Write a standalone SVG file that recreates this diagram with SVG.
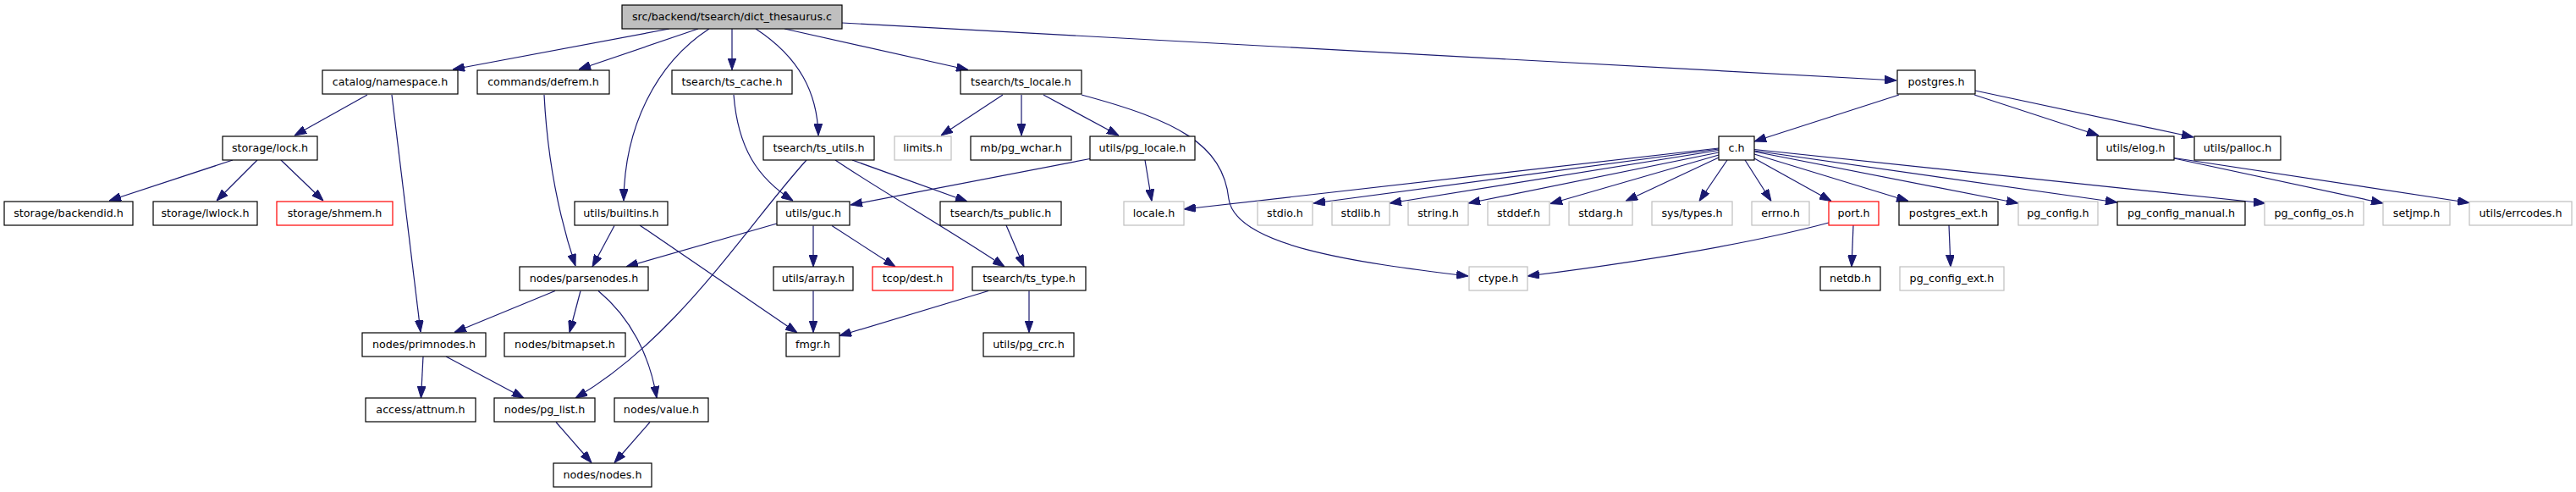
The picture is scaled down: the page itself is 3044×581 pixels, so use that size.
<svg xmlns="http://www.w3.org/2000/svg" width="3044" height="581" viewBox="0 0 3044 581">
<style>
rect{fill:#fff;stroke:#000;stroke-width:1.2}
rect.g{stroke:#bfbfbf}
rect.r{stroke:#ff0000}
rect.root{fill:#bfbfbf}
text{font-family:"DejaVu Sans","Liberation Sans",sans-serif;font-size:12.7px;text-anchor:middle;fill:#000}
.e path{fill:none;stroke:#191970;stroke-width:1.2;marker-end:url(#arr)}
</style>
<defs>
<marker id="arr" markerUnits="userSpaceOnUse" markerWidth="14" markerHeight="10" refX="14" refY="5" orient="auto">
<path d="M0,0 L14,5 L0,10 z" fill="#191970" stroke="#191970" stroke-width="1"/>
</marker>
</defs>
<rect x="0" y="0" width="3044" height="581" style="fill:#fff;stroke:none"/>
<g class="e" id="edges">
<path d="M791,34 L535,82"/>
<path d="M825,34 L684,82"/>
<path d="M838,34 C775,75 738,150 737,237"/>
<path d="M865,34 L865,82.5"/>
<path d="M893,34 C945,68 966,110 967,160"/>
<path d="M927,34 L1144,82.5"/>
<path d="M995,27 L2241,95"/>
<path d="M434,112 L348,160"/>
<path d="M463,112 L497,392"/>
<path d="M643,112 C647,190 662,260 680,314"/>
<path d="M867,112 C872,175 895,210 937,237"/>
<path d="M1185,112 L1112,160"/>
<path d="M1207,112 L1207,160"/>
<path d="M1233,112 L1322,160"/>
<path d="M1278,112 C1390,142 1445,170 1452,235 C1460,290 1600,310 1735,326"/>
<path d="M2244,112 L2073,167"/>
<path d="M2333,112 L2480,160"/>
<path d="M2334,107 L2592,162"/>
<path d="M275,189 L129,237"/>
<path d="M304,189 L256,237"/>
<path d="M332,189 L382,237"/>
<path d="M953,189 C880,270 800,400 680,470"/>
<path d="M987,189 C1040,225 1120,270 1187,315"/>
<path d="M1007,189 L1143,238"/>
<path d="M1288,187.5 L1005,242"/>
<path d="M1353,189 L1361,237.5"/>
<path d="M2031,175 L1399,247"/>
<path d="M2031,176 L1552,240"/>
<path d="M2031,177.5 L1642,240"/>
<path d="M2031,180 L1735,240"/>
<path d="M2031,183 L1832,240.5"/>
<path d="M2031,186 L1921,237.5"/>
<path d="M2041,189 L2008,237.5"/>
<path d="M2062,189 L2093,237.5"/>
<path d="M2073,187 L2164,237.5"/>
<path d="M2073,182 L2255,237.5"/>
<path d="M2073,179 L2385,240"/>
<path d="M2073,178 L2502,239"/>
<path d="M2073,176.5 L2677,240"/>
<path d="M2569,187 L2816,240"/>
<path d="M2569,186.5 L2918,239.5"/>
<path d="M726,266.5 L700,315"/>
<path d="M756,266 L942,393"/>
<path d="M918,264 L740,315"/>
<path d="M961,266.5 L961,315"/>
<path d="M983,266.5 L1058,315"/>
<path d="M1189,266 L1210,315"/>
<path d="M2161,263 C2060,290 1930,310 1805,326"/>
<path d="M2190,266 L2188,315"/>
<path d="M2303,266 L2305,315"/>
<path d="M656,343.5 L537,392.5"/>
<path d="M686,343.5 L673,392.5"/>
<path d="M707,343.5 C745,375 768,420 776,470"/>
<path d="M961,343.5 L961,392.5"/>
<path d="M1168,343.5 L992,396.5"/>
<path d="M1216,343.5 L1216,392.5"/>
<path d="M500,421 L497.5,470"/>
<path d="M527,421 L619,470"/>
<path d="M657,498.5 L699,546.5"/>
<path d="M768,498.5 L726,546.5"/>
</g>
<g id="n_root"><rect class="root" x="735" y="6" width="260" height="28"/><text x="865" y="24.3">src/backend/tsearch/dict_thesaurus.c</text></g>
<g id="n_namespace"><rect x="381" y="83" width="160" height="28"/><text x="461" y="101.3">catalog/namespace.h</text></g>
<g id="n_defrem"><rect x="564" y="83" width="156" height="28"/><text x="642" y="101.3">commands/defrem.h</text></g>
<g id="n_ts_cache"><rect x="794" y="83" width="142" height="28"/><text x="865" y="101.3">tsearch/ts_cache.h</text></g>
<g id="n_ts_locale"><rect x="1135" y="83" width="143" height="28"/><text x="1206.5" y="101.3">tsearch/ts_locale.h</text></g>
<g id="n_postgres"><rect x="2242" y="83" width="92" height="28"/><text x="2288" y="101.3">postgres.h</text></g>
<g id="n_lock"><rect x="263" y="161" width="112" height="28"/><text x="319" y="179.3">storage/lock.h</text></g>
<g id="n_ts_utils"><rect x="902" y="161" width="131" height="28"/><text x="967.5" y="179.3">tsearch/ts_utils.h</text></g>
<g id="n_limits"><rect class="g" x="1057" y="161" width="67" height="28"/><text x="1090.5" y="179.3">limits.h</text></g>
<g id="n_pg_wchar"><rect x="1147" y="161" width="119" height="28"/><text x="1206.5" y="179.3">mb/pg_wchar.h</text></g>
<g id="n_pg_locale"><rect x="1288" y="161" width="124" height="28"/><text x="1350" y="179.3">utils/pg_locale.h</text></g>
<g id="n_c"><rect x="2031" y="161" width="42" height="28"/><text x="2052" y="179.3">c.h</text></g>
<g id="n_elog"><rect x="2478" y="161" width="91" height="28"/><text x="2523.5" y="179.3">utils/elog.h</text></g>
<g id="n_palloc"><rect x="2593" y="161" width="102" height="28"/><text x="2644" y="179.3">utils/palloc.h</text></g>
<g id="n_backendid"><rect x="5" y="238" width="152" height="28"/><text x="81" y="256.3">storage/backendid.h</text></g>
<g id="n_lwlock"><rect x="181" y="238" width="123" height="28"/><text x="242.5" y="256.3">storage/lwlock.h</text></g>
<g id="n_shmem"><rect class="r" x="327" y="238" width="137" height="28"/><text x="395.5" y="256.3">storage/shmem.h</text></g>
<g id="n_builtins"><rect x="679" y="238" width="110" height="28"/><text x="734" y="256.3">utils/builtins.h</text></g>
<g id="n_guc"><rect x="918" y="238" width="86" height="28"/><text x="961" y="256.3">utils/guc.h</text></g>
<g id="n_ts_public"><rect x="1111" y="238" width="143" height="28"/><text x="1182.5" y="256.3">tsearch/ts_public.h</text></g>
<g id="n_locale"><rect class="g" x="1328" y="238" width="71" height="28"/><text x="1363.5" y="256.3">locale.h</text></g>
<g id="n_stdio"><rect class="g" x="1486" y="238" width="65" height="28"/><text x="1518.5" y="256.3">stdio.h</text></g>
<g id="n_stdlib"><rect class="g" x="1574" y="238" width="68" height="28"/><text x="1608" y="256.3">stdlib.h</text></g>
<g id="n_string"><rect class="g" x="1664" y="238" width="71" height="28"/><text x="1699.5" y="256.3">string.h</text></g>
<g id="n_stddef"><rect class="g" x="1758" y="238" width="73" height="28"/><text x="1794.5" y="256.3">stddef.h</text></g>
<g id="n_stdarg"><rect class="g" x="1854" y="238" width="75" height="28"/><text x="1891.5" y="256.3">stdarg.h</text></g>
<g id="n_systypes"><rect class="g" x="1952" y="238" width="95" height="28"/><text x="1999.5" y="256.3">sys/types.h</text></g>
<g id="n_errno"><rect class="g" x="2070" y="238" width="68" height="28"/><text x="2104" y="256.3">errno.h</text></g>
<g id="n_port"><rect class="r" x="2161" y="238" width="59" height="28"/><text x="2190.5" y="256.3">port.h</text></g>
<g id="n_postgres_ext"><rect x="2244" y="238" width="117" height="28"/><text x="2302.5" y="256.3">postgres_ext.h</text></g>
<g id="n_pg_config"><rect class="g" x="2385" y="238" width="94" height="28"/><text x="2432" y="256.3">pg_config.h</text></g>
<g id="n_pg_config_manual"><rect x="2502" y="238" width="151" height="28"/><text x="2577.5" y="256.3">pg_config_manual.h</text></g>
<g id="n_pg_config_os"><rect class="g" x="2676" y="238" width="117" height="28"/><text x="2734.5" y="256.3">pg_config_os.h</text></g>
<g id="n_setjmp"><rect class="g" x="2816" y="238" width="79" height="28"/><text x="2855.5" y="256.3">setjmp.h</text></g>
<g id="n_errcodes"><rect class="g" x="2918" y="238" width="121" height="28"/><text x="2978.5" y="256.3">utils/errcodes.h</text></g>
<g id="n_parsenodes"><rect x="614" y="315" width="152" height="28"/><text x="690" y="333.3">nodes/parsenodes.h</text></g>
<g id="n_array"><rect x="914" y="315" width="94" height="28"/><text x="961" y="333.3">utils/array.h</text></g>
<g id="n_dest"><rect class="r" x="1031" y="315" width="95" height="28"/><text x="1078.5" y="333.3">tcop/dest.h</text></g>
<g id="n_ts_type"><rect x="1149" y="315" width="134" height="28"/><text x="1216" y="333.3">tsearch/ts_type.h</text></g>
<g id="n_ctype"><rect class="g" x="1736" y="315" width="69" height="28"/><text x="1770.5" y="333.3">ctype.h</text></g>
<g id="n_netdb"><rect x="2151" y="315" width="71" height="28"/><text x="2186.5" y="333.3">netdb.h</text></g>
<g id="n_pg_config_ext"><rect class="g" x="2245" y="315" width="123" height="28"/><text x="2306.5" y="333.3">pg_config_ext.h</text></g>
<g id="n_primnodes"><rect x="428" y="393" width="146" height="28"/><text x="501" y="411.3">nodes/primnodes.h</text></g>
<g id="n_bitmapset"><rect x="596" y="393" width="143" height="28"/><text x="667.5" y="411.3">nodes/bitmapset.h</text></g>
<g id="n_fmgr"><rect x="929" y="393" width="63" height="28"/><text x="960.5" y="411.3">fmgr.h</text></g>
<g id="n_pg_crc"><rect x="1162" y="393" width="107" height="28"/><text x="1215.5" y="411.3">utils/pg_crc.h</text></g>
<g id="n_attnum"><rect x="432" y="470" width="130" height="28"/><text x="497" y="488.3">access/attnum.h</text></g>
<g id="n_pg_list"><rect x="584" y="470" width="119" height="28"/><text x="643.5" y="488.3">nodes/pg_list.h</text></g>
<g id="n_value"><rect x="726" y="470" width="111" height="28"/><text x="781.5" y="488.3">nodes/value.h</text></g>
<g id="n_nodes"><rect x="654" y="547" width="116" height="28"/><text x="712" y="565.3">nodes/nodes.h</text></g>
</svg>
